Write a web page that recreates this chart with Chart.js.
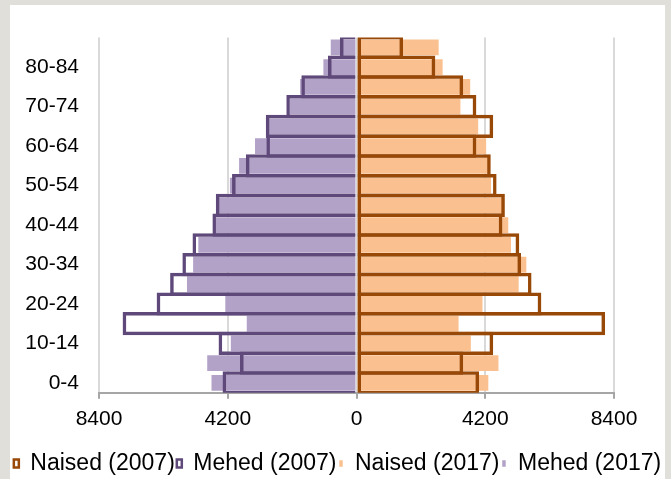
<!DOCTYPE html>
<html>
<head>
<meta charset="utf-8">
<script src="https://cdn.jsdelivr.net/npm/chart.js@4"></script>
<style>
  html, body { margin: 0; padding: 0; background: #e0dfda; overflow: hidden; }
  #panel { position: absolute; left: 10px; top: 5px; width: 655px; height: 480px; background: #fff; }
  canvas { display: block; }
</style>
</head>
<body>
<div id="panel"><canvas id="pyramid"></canvas></div>
<script>
// age groups, bottom (0-4) to top (85+)
const ageGroups = ["0-4", "5-9", "10-14", "15-19", "20-24", "25-29", "30-34", "35-39", "40-44",
                   "45-49", "50-54", "55-59", "60-64", "65-69", "70-74", "75-79", "80-84", "85+"];
const women2007 = [4000, 3480, 4460, 8110, 6030, 5710, 5370, 5310, 4760, 4840, 4570, 4380, 3910, 4460, 3910, 3480, 2570, 1520];
const men2007   = [4370, 3800, 4500, 7630, 6520, 6080, 5680, 5350, 4700, 4590, 4060, 3610, 2940, 2960, 2290, 1800, 930, 540];
const women2017 = [4300, 4630, 3730, 3330, 4110, 5290, 5540, 5040, 4950, 4760, 4390, 4350, 4230, 3970, 3390, 3710, 2810, 2680];
const men2017   = [4730, 4870, 4100, 3580, 4280, 5530, 5330, 5160, 4610, 4500, 4130, 3830, 3310, 2890, 2170, 1840, 1080, 840];
const xTicks = [-8400, -4200, 0, 4200, 8400];

const darkOrange = "#984807";
const darkPurple = "#5f497a";
const lightOrange = "#fac090";
const lightPurple = "#b3a2c7";
const font = "'Liberation Sans', Arial, sans-serif";

new Chart(document.getElementById("pyramid"), {
    type: "bar",
    data: {
        labels: ageGroups,
        datasets: [
            {
                label: "Naised (2007)",
                data: women2007,
                backgroundColor: "rgba(0,0,0,0)",
                borderColor: darkOrange,
                borderWidth: 3.5,
                borderSkipped: false,
                barPercentage: 1.177,
            },
            {
                label: "Mehed (2007)",
                data: men2007.map((v) => -v),
                backgroundColor: "rgba(0,0,0,0)",
                borderColor: darkPurple,
                borderWidth: 3.5,
                borderSkipped: "start",
                barPercentage: 1.177,
            },
            {
                label: "Naised (2017)",
                data: women2017,
                backgroundColor: lightOrange,
                borderWidth: 0,
                barPercentage: 0.8,
            },
            {
                label: "Mehed (2017)",
                data: men2017.map((v) => -v),
                backgroundColor: lightPurple,
                borderWidth: 0,
                barPercentage: 0.8,
            },
        ],
    },
    options: {
        indexAxis: "y",
        responsive: true,
        maintainAspectRatio: false,
        animation: false,
        layout: { padding: { top: 29, left: 0, right: 0, bottom: 0 } },
        datasets: {
            bar: { grouped: false, categoryPercentage: 1, inflateAmount: 0 },
        },
        scales: {
            x: {
                min: xTicks[0],
                max: xTicks[xTicks.length - 1],
                afterBuildTicks: (scale) => {
                    scale.ticks = xTicks.map((v) => ({ value: v }));
                },
                ticks: {
                    callback: (v) => String(Math.abs(v)),
                    color: "#000",
                    font: { family: font, size: 21 },
                    padding: 8,
                },
                grid: { color: "#d9d9d9", lineWidth: 2, tickLength: 6, tickColor: "#a6a6a6", tickWidth: 2 },
                border: { color: "#a6a6a6", width: 2 },
                afterFit: (scale) => { scale.height += 10; },
            },
            y: {
                reverse: true,
                ticks: {
                    autoSkip: false,
                    callback: (v, i) => (i % 2 === 0 ? ageGroups[i] : ""),
                    color: "#000",
                    font: { family: font, size: 21 },
                    padding: 20,
                },
                grid: { display: false, drawTicks: false },
                border: { display: false },
                afterFit: (scale) => { scale.width = 89; },
            },
            // empty axis, only keeps space right of the plot
            yRight: {
                type: "category",
                position: "right",
                ticks: { display: false },
                grid: { display: false, drawTicks: false },
                border: { display: false },
                afterFit: (scale) => { scale.width = 51; },
            },
        },
        plugins: {
            tooltip: { enabled: false },
            legend: {
                position: "bottom",
                labels: {
                    boxWidth: 5,
                    boxHeight: 8,
                    padding: 2,
                    color: "#000",
                    font: { family: font, size: 23 },
                    generateLabels: (chart) =>
                        chart.data.datasets.map((ds, i) => ({
                            text: ds.label,
                            fillStyle: i < 2 ? "#fff" : ds.backgroundColor,
                            strokeStyle: i < 2 ? ds.borderColor : "#fff",
                            lineWidth: i < 2 ? 2.5 : 1.5,
                            fontColor: "#000",
                            hidden: false,
                            datasetIndex: i,
                        })),
                },
            },
        },
    },
});
</script>
</body>
</html>
